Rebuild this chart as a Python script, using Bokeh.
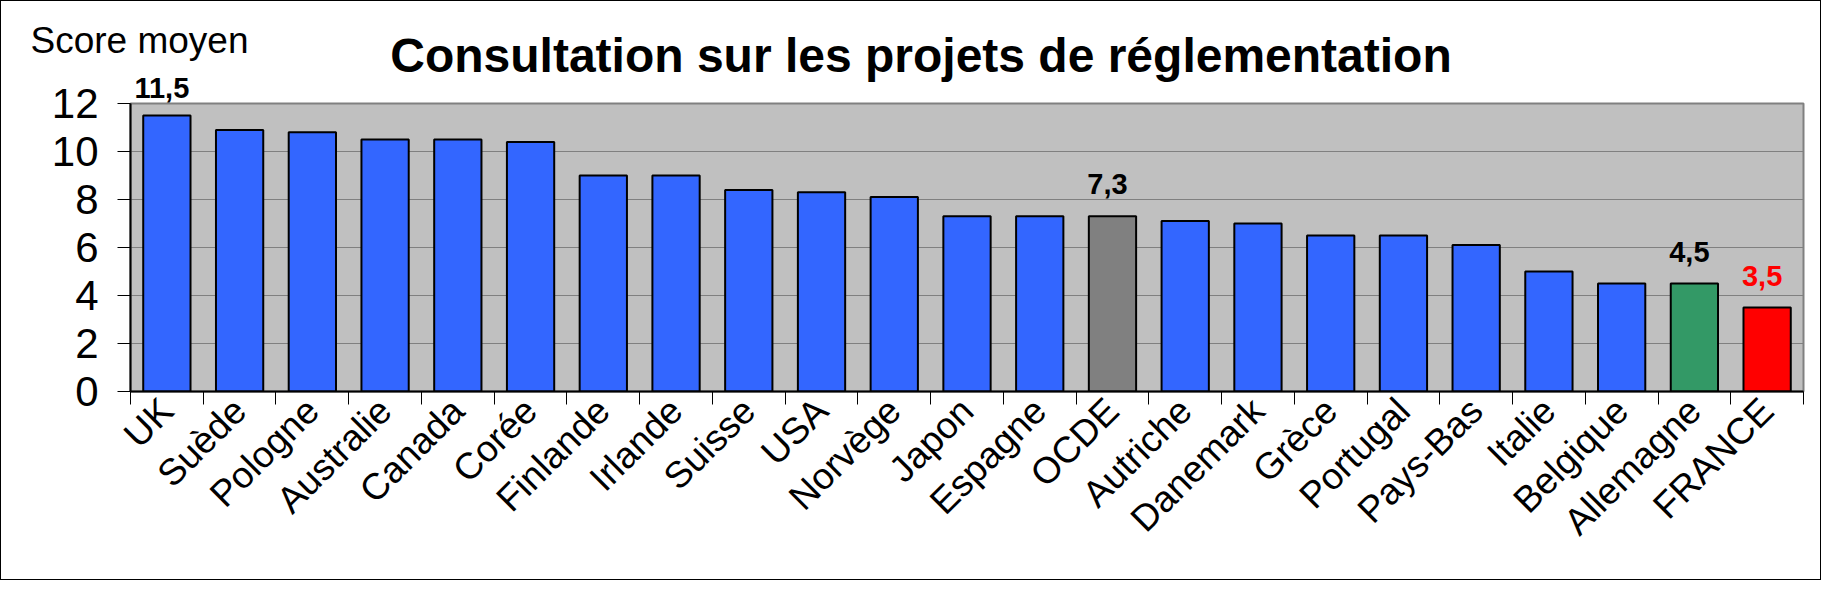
import math
from bokeh.plotting import figure
from bokeh.models import (ColumnDataSource, Range1d, FixedTicker, CustomJSTickFormatter,
                          Label, LabelSet)
from bokeh.core.properties import value
from bokeh.embed import file_html
from bokeh.resources import INLINE

# ---- data ----
countries = ["UK", "Suède", "Pologne", "Australie", "Canada", "Corée", "Finlande",
             "Irlande", "Suisse", "USA", "Norvège", "Japon", "Espagne", "OCDE",
             "Autriche", "Danemark", "Grèce", "Portugal", "Pays-Bas", "Italie",
             "Belgique", "Allemagne", "FRANCE"]
scores = [11.5, 10.9, 10.8, 10.5, 10.5, 10.4, 9.0, 9.0, 8.4, 8.3, 8.1, 7.3, 7.3,
          7.3, 7.1, 7.0, 6.5, 6.5, 6.1, 5.0, 4.5, 4.5, 3.5]
y_ticks = [0, 2, 4, 6, 8, 10, 12]
labelled = ["UK", "OCDE", "Allemagne", "FRANCE"]
title_text = "Consultation sur les projets de réglementation"
y_title = "Score moyen"

# ---- styles ----
FONT = "Liberation Sans"
BLUE = "#3366FF"
special_colors = {"OCDE": "#808080", "Allemagne": "#339966", "FRANCE": "#FF0000"}
label_colors = {"FRANCE": "#FF0000"}

n = len(countries)
ymax = y_ticks[-1]
xs = [i + 0.5 for i in range(n)]
colors = [special_colors.get(c, BLUE) for c in countries]
src = ColumnDataSource(dict(x=xs, top=scores, color=colors))

p = figure(width=1821, height=580, x_range=Range1d(0, n), y_range=Range1d(0, ymax),
           output_backend="svg", toolbar_location=None,
           min_border_left=129, min_border_right=19, min_border_top=102,
           min_border_bottom=190,
           background_fill_color="#C0C0C0", border_fill_color="white",
           outline_line_color="#808080", outline_line_width=2,
           styles={"border": "1px solid black"})

p.vbar(x="x", top="top", width=0.65, bottom=0, fill_color="color",
       line_color="black", line_width=2, source=src)

# grid
p.xgrid.grid_line_color = None
p.ygrid.grid_line_color = "#808080"
p.ygrid.grid_line_width = 1
p.ygrid.ticker = FixedTicker(ticks=y_ticks)

# y axis
p.yaxis.ticker = FixedTicker(ticks=y_ticks)
p.yaxis.major_label_text_font = FONT
p.yaxis.major_label_text_font_size = "42px"
p.yaxis.major_label_text_color = "black"
p.yaxis.major_tick_out = 13
p.yaxis.major_tick_in = 0
p.yaxis.major_tick_line_color = "black"
p.yaxis.minor_tick_line_color = None
p.yaxis.axis_line_color = "black"
p.yaxis.axis_line_width = 2
p.yaxis.major_label_standoff = 19

# x axis
p.xaxis.ticker = FixedTicker(ticks=xs, minor_ticks=list(range(n + 1)))
p.xaxis.formatter = CustomJSTickFormatter(args=dict(names=countries),
                                          code="return names[Math.floor(tick)] || '';")
p.xaxis.major_tick_line_color = None
p.xaxis.minor_tick_line_color = "black"
p.xaxis.minor_tick_out = 13
p.xaxis.minor_tick_in = 0
p.xaxis.axis_line_color = "black"
p.xaxis.axis_line_width = 2
p.xaxis.major_label_orientation = math.pi / 4
p.xaxis.major_label_text_font = FONT
p.xaxis.major_label_text_font_size = "37px"
p.xaxis.major_label_text_color = "black"
p.xaxis.major_label_standoff = 0
p.xaxis.axis_label_standoff = 0

# value labels: those inside the frame via a LabelSet, the one that rises above
# the frame as a Label in a side panel (side-panel annotations are not clipped)
in_x, in_y, in_t, in_c = [], [], [], []
for i, c in enumerate(countries):
    if c not in labelled:
        continue
    txt = f"{scores[i]:.1f}".replace(".", ",")
    col = label_colors.get(c, "#000000")
    if scores[i] > ymax - 1:
        p.add_layout(Label(x=xs[i], y=scores[i], text=txt, text_color=col,
                           text_font=FONT, text_font_size="29px",
                           text_font_style="bold", text_align="center",
                           text_baseline="alphabetic", x_offset=-5, y_offset=28),
                     "below")
    else:
        in_x.append(xs[i]); in_y.append(scores[i]); in_t.append(txt); in_c.append(col)

p.add_layout(LabelSet(x="x", y="y", text="t", text_color="c",
                      source=ColumnDataSource(dict(x=in_x, y=in_y, t=in_t, c=in_c)),
                      text_font=value(FONT), text_font_size="29px",
                      text_font_style="bold", text_align="center",
                      text_baseline="alphabetic", x_offset=-5, y_offset=22))

# title and y title
p.add_layout(Label(x=n / 2, y=ymax, x_offset=-46, y_offset=48, text=title_text,
                   text_font=FONT, text_font_size="48px", text_font_style="bold",
                   text_align="center", text_baseline="alphabetic",
                   text_color="black"), "above")
p.add_layout(Label(x=0, y=ymax, x_offset=-100, y_offset=63, text=y_title,
                   text_font=FONT, text_font_size="37px",
                   text_align="left", text_baseline="alphabetic",
                   text_color="black"), "above")

open("out.html", "w").write(file_html(p, INLINE))
